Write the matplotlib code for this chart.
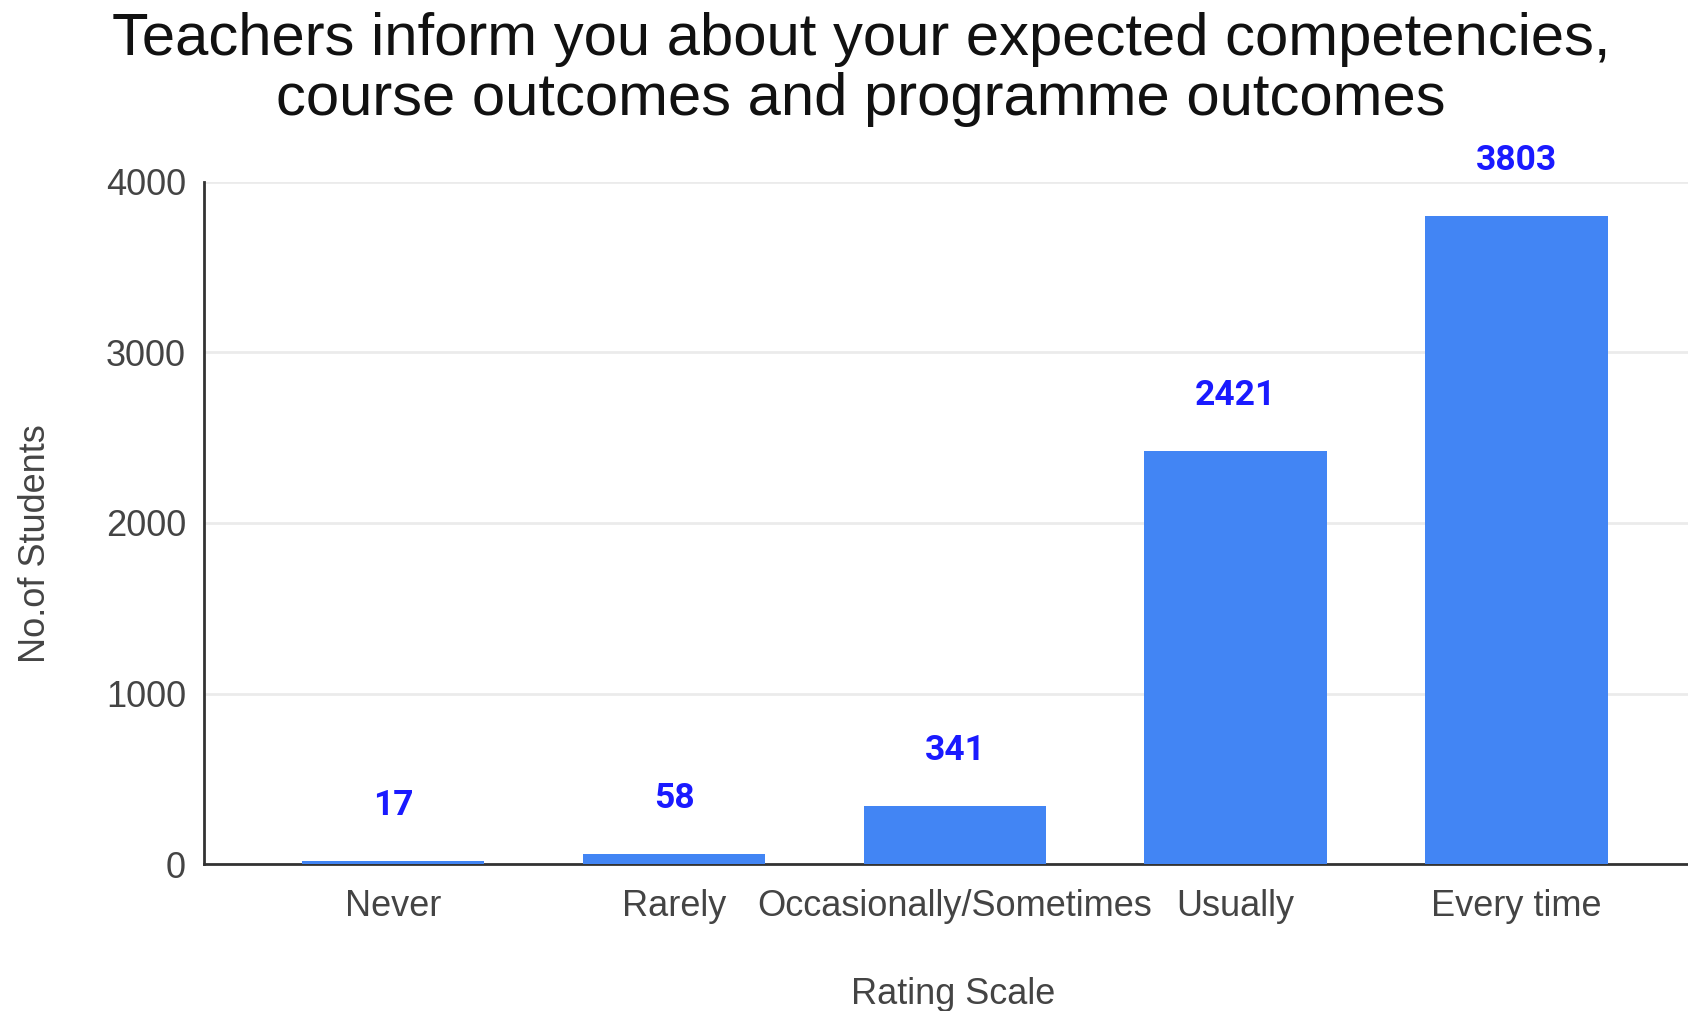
import matplotlib.pyplot as plt
import numpy as np

plt.rcParams["font.family"] = ["Liberation Sans", "DejaVu Sans"]

# datos
categorias = ["Never", "Rarely", "Occasionally/Sometimes", "Usually", "Every time"]
valores = [17, 58, 341, 2421, 3803]
yticks = [0, 1000, 2000, 3000, 4000]

AZUL = "#4285F4"
ETIQ = "#1a1aff"

fig = plt.figure(figsize=(16.88, 10.11), dpi=100)
ax = fig.add_axes([204 / 1688, 1 - 864 / 1011, (1688 - 204) / 1688, (864 - 182) / 1011])

pos = np.arange(len(categorias))
ax.bar(pos, valores, width=0.65, color=AZUL, zorder=3)
for x, v in zip(pos, valores):
    ax.annotate(f"{v}", (x, v), xytext=(0, 40), textcoords="offset points",
                ha="center", va="center", fontsize=25.5, fontweight="bold",
                color=ETIQ, family=["Roboto", "DejaVu Sans"])

ax.set_xlim(-0.673, 4.61)
ax.set_ylim(0, 4000)
ax.set_yticks(yticks)
ax.set_xticks(pos)
ax.set_xticklabels(categorias)
ax.tick_params(axis="both", length=0, labelsize=26, labelcolor="#444444")
ax.tick_params(axis="x", pad=18)
ax.tick_params(axis="y", pad=13)
ax.grid(axis="y", color="#ebebeb", linewidth=2, zorder=0)
for s in ["top", "right"]:
    ax.spines[s].set_visible(False)
ax.spines["left"].set_color("#333333")
ax.spines["bottom"].set_color("#333333")
ax.spines["left"].set_linewidth(2)
ax.spines["bottom"].set_linewidth(2)

ax.set_xlabel("Rating Scale", fontsize=26, color="#444444")
ax.xaxis.set_label_coords(0.505, -0.165)
ax.set_ylabel("No.of Students", fontsize=26, color="#444444")
ax.yaxis.set_label_coords(-0.102, 0.47)

fig.text(0.51, 0.988, "Teachers inform you about your expected competencies,\n"
         "course outcomes and programme outcomes",
         ha="center", va="top", fontsize=43, color="#111111", linespacing=1.12)

fig.savefig("out.png", dpi=100)
